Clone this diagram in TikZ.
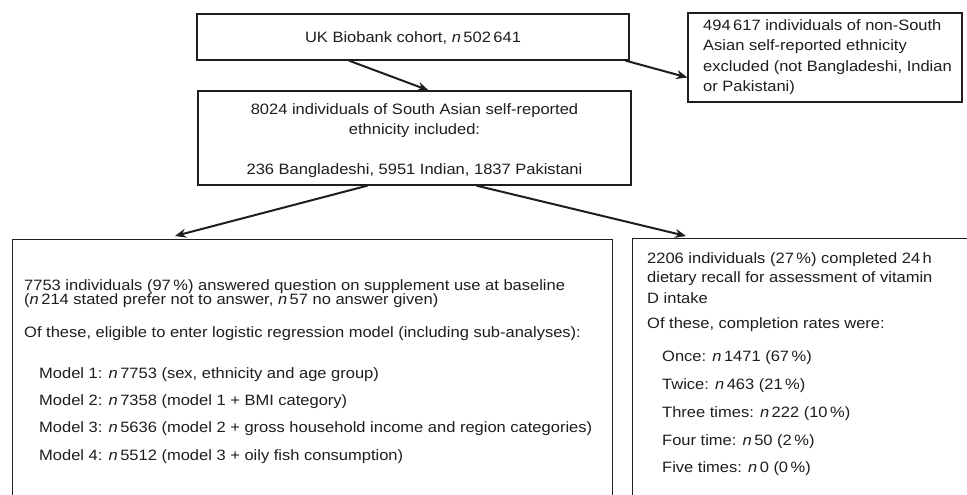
\documentclass[tikz,border=0pt]{standalone}
\usepackage{fontspec}
\setmainfont[FakeStretch=1.1]{Liberation Sans}
\usetikzlibrary{arrows.meta,calc}
\definecolor{ink}{HTML}{1E1E1E}
\tikzset{
  box/.style={draw=ink, line width=1.3pt, rectangle, inner sep=0pt},
  txt/.style={text=ink, inner sep=0pt, font=\fontsize{15}{18}\selectfont},
  arr/.style={draw=ink, line width=2pt, -{Stealth[length=11pt,width=9pt]}},
}
\begin{document}
\begin{tikzpicture}[x=1pt,y=-1pt]
\useasboundingbox[fill=white] (0,0) rectangle (967,495);
% boxes
\node[box, minimum width=432pt, minimum height=46pt] (top) at (413,37) {};
\node[box, minimum width=433pt, minimum height=94pt] (mid) at (414.5,138) {};
\node[box, minimum width=274pt, minimum height=89pt] (excl) at (825,57.5) {};
\begin{scope}
\clip (0,0) rectangle (967,495);
\node[box, minimum width=600pt, minimum height=300pt, anchor=north west] (lb) at (12,239) {};
\node[box, minimum width=360pt, minimum height=300pt, anchor=north west] (rb) at (632,238) {};
\end{scope}
% texts
\node[txt, anchor=base] (t1) at (413,43) {UK Biobank cohort, \textit{n}\,502\,641};
\node[txt, anchor=base] (m1) at (414.5,114) {8024 individuals of South Asian self-reported};
\node[txt, anchor=base] (m2) at (414.5,134) {ethnicity included:};
\node[txt, anchor=base] (m3) at (414.5,174) {236 Bangladeshi, 5951 Indian, 1837 Pakistani};
\node[txt, anchor=base west] (e1) at (703,31) {494\,617 individuals of non-South};
\node[txt, anchor=base west] (e2) at (703,51) {Asian self-reported ethnicity};
\node[txt, anchor=base west] (e3) at (703,71) {excluded (not Bangladeshi, Indian};
\node[txt, anchor=base west] (e4) at (703,92) {or Pakistani)};
\node[txt, anchor=base west] (l1) at (24,290) {7753 individuals (97\,\%) answered question on supplement use at baseline};
\node[txt, anchor=base west] (l2) at (24,304) {(\textit{n}\,214 stated prefer not to answer, \textit{n}\,57 no answer given)};
\node[txt, anchor=base west] (l3) at (24,337) {Of these, eligible to enter logistic regression model (including sub-analyses):};
\node[txt, anchor=base west] (l4) at (39,378) {Model 1: \textit{n}\,7753 (sex, ethnicity and age group)};
\node[txt, anchor=base west] (l5) at (39,405) {Model 2: \textit{n}\,7358 (model 1 + BMI category)};
\node[txt, anchor=base west] (l6) at (39,432) {Model 3: \textit{n}\,5636 (model 2 + gross household income and region categories)};
\node[txt, anchor=base west] (l7) at (39,460) {Model 4: \textit{n}\,5512 (model 3 + oily fish consumption)};
\node[txt, anchor=base west] (r1) at (647,263) {2206 individuals (27\,\%) completed 24\,h};
\node[txt, anchor=base west] (r2) at (647,282) {dietary recall for assessment of vitamin};
\node[txt, anchor=base west] (r3) at (647,303) {D intake};
\node[txt, anchor=base west] (r4) at (647,328) {Of these, completion rates were:};
\node[txt, anchor=base west] (r5) at (662,361) {Once: \textit{n}\,1471 (67\,\%)};
\node[txt, anchor=base west] (r6) at (662,389) {Twice: \textit{n}\,463 (21\,\%)};
\node[txt, anchor=base west] (r7) at (662,417) {Three times: \textit{n}\,222 (10\,\%)};
\node[txt, anchor=base west] (r8) at (662,445) {Four time: \textit{n}\,50 (2\,\%)};
\node[txt, anchor=base west] (r9) at (662,472) {Five times: \textit{n}\,0 (0\,\%)};
% arrows
\draw[arr] ([xshift=-64pt]top.south) -- ([xshift=14pt]mid.north);
\draw[arr] ([xshift=-4pt]top.south east) -- ([yshift=-20pt]excl.west);
\draw[arr] ([xshift=-47pt]mid.south) -- ([xshift=163pt,yshift=3pt]lb.north west);
\draw[arr] ([xshift=62pt]mid.south) -- ([xshift=54pt,yshift=2pt]rb.north west);
\end{tikzpicture}
\end{document}
